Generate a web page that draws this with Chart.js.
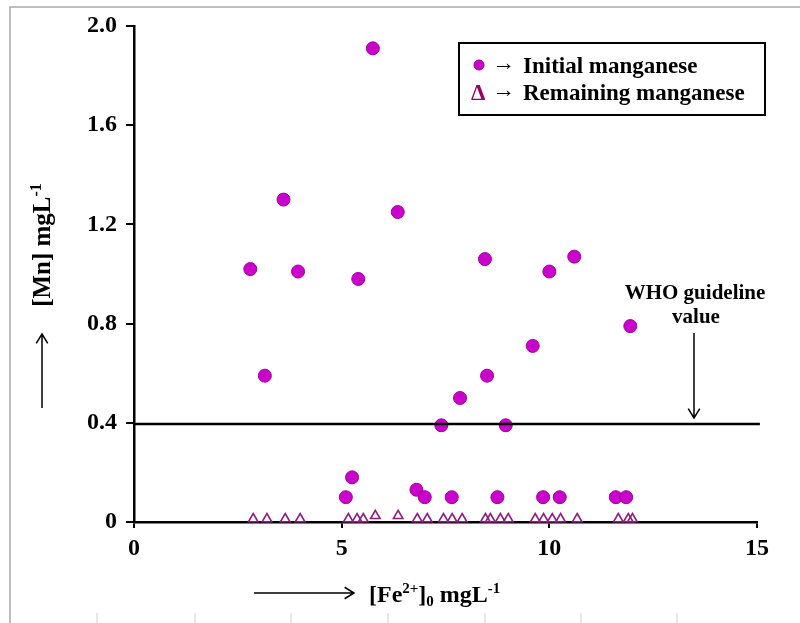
<!DOCTYPE html>
<html>
<head>
<meta charset="utf-8">
<script src="https://cdn.jsdelivr.net/npm/chart.js@4.4.0/dist/chart.umd.min.js"></script>
<style>
  html, body { margin: 0; padding: 0; background: #fff; }
  #wrap { width: 800px; height: 623px; position: relative; }
</style>
</head>
<body>
<div id="wrap"><canvas id="mnChart" width="800" height="623"></canvas></div>
<script>
// --- data ---
const initialX = [2.8, 3.15, 3.6, 3.95, 5.1, 5.25, 5.4, 5.75, 6.35, 6.8, 7.0, 7.4, 7.65, 7.85, 8.45, 8.5, 8.75, 8.95, 9.6, 9.85, 10.0, 10.25, 10.6, 11.6, 11.85, 11.95];
const initialY = [1.02, 0.59, 1.30, 1.01, 0.10, 0.18, 0.98, 1.91, 1.25, 0.13, 0.10, 0.39, 0.10, 0.50, 1.06, 0.59, 0.10, 0.39, 0.71, 0.10, 1.01, 0.10, 1.07, 0.10, 0.10, 0.79];
const remainingX = [2.87, 3.2, 3.64, 4.0, 5.16, 5.37, 5.52, 5.81, 6.36, 6.82, 7.06, 7.45, 7.66, 7.9, 8.46, 8.58, 8.82, 9.01, 9.66, 9.86, 10.07, 10.27, 10.67, 11.66, 11.9, 12.0];
const remainingY = [0.012, 0.012, 0.012, 0.012, 0.012, 0.012, 0.012, 0.025, 0.025, 0.012, 0.012, 0.012, 0.012, 0.012, 0.012, 0.012, 0.012, 0.012, 0.012, 0.012, 0.012, 0.012, 0.012, 0.012, 0.012, 0.012];
const whoX = [0, 15.07];
const whoY = [0.395, 0.395];
const xTicks = [0, 5, 10, 15];
const yTicks = [0, 0.4, 0.8, 1.2, 1.6, 2.0];

const SERIF = '"Liberation Serif", "Times New Roman", serif';

function toPoints(xs, ys) {
    return xs.map((x, i) => ({ x: x, y: ys[i] }));
}

// draws text pieces with super/subscripts, returns width
function drawRich(ctx, parts, x, y, size, measureOnly) {
    let w = 0;
    parts.forEach(p => {
        const s = p.sup || p.sub ? Math.round(size * 0.62) : size;
        ctx.font = 'bold ' + s + 'px ' + SERIF;
        const dy = p.sup ? -size * 0.38 : (p.sub ? size * 0.18 : 0);
        if (!measureOnly) ctx.fillText(p.t, x + w, y + dy);
        w += ctx.measureText(p.t).width;
    });
    return w;
}

function arrow(ctx, x1, y1, x2, y2, head) {
    const a = Math.atan2(y2 - y1, x2 - x1);
    ctx.beginPath();
    ctx.moveTo(x1, y1);
    ctx.lineTo(x2, y2);
    ctx.moveTo(x2 - head * Math.cos(a - 0.55), y2 - head * Math.sin(a - 0.55));
    ctx.lineTo(x2, y2);
    ctx.lineTo(x2 - head * Math.cos(a + 0.55), y2 - head * Math.sin(a + 0.55));
    ctx.stroke();
}

const decorations = {
    id: 'decorations',
    afterDraw(chart) {
        const ctx = chart.ctx;
        ctx.save();
        // frame of the original figure
        ctx.strokeStyle = '#a8a8a8';
        ctx.lineWidth = 1.5;
        ctx.beginPath();
        ctx.moveTo(10, 623); ctx.lineTo(10, 7); ctx.lineTo(800, 7);
        ctx.stroke();
        ctx.strokeStyle = '#cfcfcf';
        ctx.lineWidth = 1;
        [97, 195, 291, 388, 485, 581, 677].forEach(x => {
            ctx.beginPath(); ctx.moveTo(x, 613); ctx.lineTo(x, 623); ctx.stroke();
        });

        ctx.fillStyle = '#000';
        ctx.strokeStyle = '#000';
        ctx.textBaseline = 'alphabetic';

        // y axis title, rotated
        const yParts = [{ t: '[Mn] mgL' }, { t: '-1', sup: true }];
        const yw = drawRich(ctx, yParts, 0, 0, 25, true);
        ctx.save();
        ctx.translate(50, 245);
        ctx.rotate(-Math.PI / 2);
        drawRich(ctx, yParts, -yw / 2, 0, 25);
        ctx.restore();
        ctx.lineWidth = 1.5;
        arrow(ctx, 42, 408, 42, 334, 11);

        // x axis title
        const xParts = [{ t: '[Fe' }, { t: '2+', sup: true }, { t: ']' }, { t: '0', sub: true }, { t: ' mgL' }, { t: '-1', sup: true }];
        drawRich(ctx, xParts, 369, 602, 24);
        arrow(ctx, 254, 593, 354, 593, 11);

        // WHO guideline annotation
        ctx.font = 'bold 21px ' + SERIF;
        ctx.textAlign = 'center';
        ctx.fillText('WHO guideline', 695, 299);
        ctx.fillText('value', 696, 323);
        ctx.textAlign = 'left';
        arrow(ctx, 694, 333, 694, 418, 11);

        // legend box
        ctx.lineWidth = 2;
        ctx.strokeRect(459, 43, 306, 72);
        ctx.fillStyle = '#cc00cc';
        ctx.strokeStyle = '#990099';
        ctx.lineWidth = 1;
        ctx.beginPath(); ctx.arc(479, 65, 5, 0, Math.PI * 2); ctx.fill(); ctx.stroke();
        ctx.font = 'bold 23px ' + SERIF;
        ctx.fillStyle = '#990066';
        ctx.fillText('\u0394', 471, 100);
        ctx.fillStyle = '#000';
        ctx.fillText('\u2192', 492, 70);
        ctx.fillText('\u2192', 492, 97);
        ctx.fillText('Initial manganese', 523, 73);
        ctx.fillText('Remaining manganese', 523, 100);
        ctx.restore();
    }
};

const ctx = document.getElementById('mnChart').getContext('2d');
new Chart(ctx, {
    type: 'scatter',
    data: {
        datasets: [
            {
                label: 'WHO guideline value',
                type: 'line',
                data: toPoints(whoX, whoY),
                borderColor: '#000',
                borderWidth: 2.5,
                pointRadius: 0,
                clip: false
            },
            {
                label: 'Initial manganese',
                data: toPoints(initialX, initialY),
                pointStyle: 'circle',
                pointRadius: 6.5,
                backgroundColor: '#cc00cc',
                borderColor: '#9a009a',
                borderWidth: 1
            },
            {
                label: 'Remaining manganese',
                data: toPoints(remainingX, remainingY),
                pointStyle: 'triangle',
                pointRadius: 5.5,
                backgroundColor: 'rgba(255,255,255,0)',
                borderColor: '#8e1f80',
                borderWidth: 1.6,
                clip: false
            }
        ]
    },
    options: {
        responsive: false,
        animation: false,
        layout: { padding: { top: 26, right: 43, left: 0, bottom: 0 } },
        plugins: {
            legend: { display: false },
            tooltip: { enabled: false }
        },
        scales: {
            x: {
                type: 'linear',
                min: 0,
                max: 15,
                afterFit: s => { s.height = 101; },
                afterBuildTicks: s => { s.ticks = xTicks.map(v => ({ value: v })); },
                grid: { drawOnChartArea: false, drawTicks: true, tickLength: 6, color: '#000', lineWidth: 2 },
                border: { display: true, color: '#000', width: 2.5 },
                ticks: {
                    color: '#000',
                    padding: 6,
                    font: { family: SERIF, weight: 'bold', size: 24 },
                    maxRotation: 0
                }
            },
            y: {
                type: 'linear',
                min: 0,
                max: 2.0,
                afterFit: s => { s.width = 134; },
                afterBuildTicks: s => { s.ticks = yTicks.map(v => ({ value: v })); },
                grid: { drawOnChartArea: false, drawTicks: true, tickLength: 8, color: '#000', lineWidth: 2 },
                border: { display: true, color: '#000', width: 2.5 },
                ticks: {
                    color: '#000',
                    padding: 9,
                    font: { family: SERIF, weight: 'bold', size: 24 },
                    callback: v => v === 0 ? '0' : v.toFixed(1)
                }
            }
        }
    },
    plugins: [decorations]
});
</script>
</body>
</html>
